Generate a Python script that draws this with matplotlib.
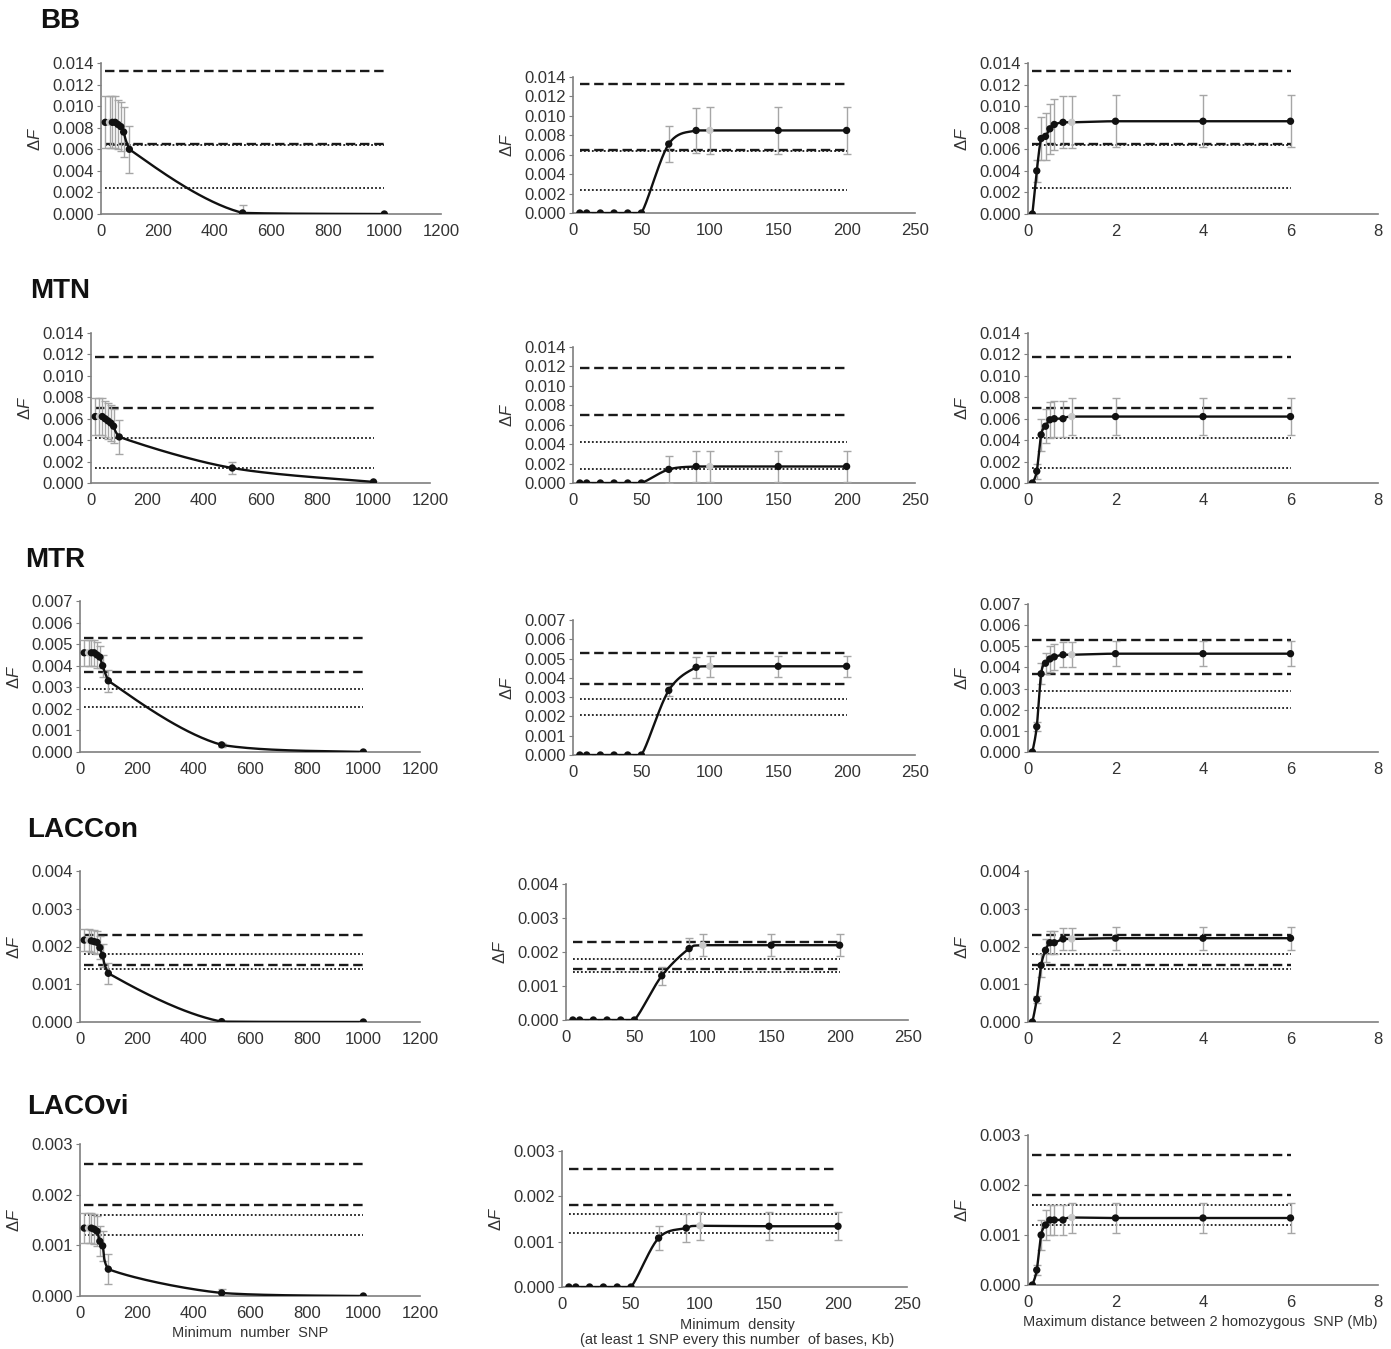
import numpy as np
import matplotlib
matplotlib.use('Agg')
import matplotlib.pyplot as plt

plt.rcParams['font.family'] = ['Liberation Sans', 'DejaVu Sans']
plt.rcParams['mathtext.fontset'] = 'custom'
plt.rcParams['mathtext.rm'] = 'Liberation Sans'
plt.rcParams['mathtext.it'] = 'Liberation Sans:italic'

# ---- data ----
groups = ['BB', 'MTN', 'MTR', 'LACCon', 'LACOvi']

x_snp = [15, 30, 40, 50, 60, 70, 80, 100, 500, 1000]
x_dens = [5, 10, 20, 30, 40, 50, 70, 90, 100, 150, 200]
x_dist = [0.1, 0.2, 0.3, 0.4, 0.5, 0.6, 0.8, 1, 2, 4, 6]
gray_snp, gray_dens, gray_dist = 1, 8, 7   # highlighted (default) setting

# minimum number SNP
bb_snp = [0.0085, 0.0085, 0.0085, 0.0085, 0.0083, 0.0081, 0.0076, 0.0060, 0.0001, 0.0]
bb_snp_err = [0.0024, 0.0024, 0.0024, 0.0024, 0.0023, 0.0023, 0.0023, 0.0022, 0.0007, 0.0]
mtn_snp = [0.0062, 0.0062, 0.0062, 0.0060, 0.0058, 0.0056, 0.0053, 0.0043, 0.0014, 0.0001]
mtn_snp_err = [0.0017, 0.0017, 0.0017, 0.0017, 0.0017, 0.0017, 0.0016, 0.0016, 0.0006, 0.0]
mtr_snp = [0.0046, 0.0046, 0.0046, 0.0046, 0.0045, 0.0044, 0.0040, 0.0033, 0.00033, 0.0]
mtr_snp_err = [0.0006, 0.0006, 0.0006, 0.0006, 0.0006, 0.0005, 0.0005, 0.0005, 0.0001, 0.0]
lcc_snp = [0.00217, 0.00217, 0.00215, 0.00213, 0.00211, 0.00197, 0.00176, 0.00129, 0.00001, 0.0]
lcc_snp_err = [0.0003, 0.0003, 0.0003, 0.0003, 0.0003, 0.0003, 0.0003, 0.00028, 0.00002, 0.0]
lco_snp = [0.00134, 0.00134, 0.00134, 0.00132, 0.00128, 0.00108, 0.00099, 0.00053, 0.00006, 0.0]
lco_snp_err = [0.0003, 0.0003, 0.0003, 0.0003, 0.0003, 0.0003, 0.0003, 0.0003, 0.00008, 0.0]

# minimum density
bb_dens = [0, 0, 0, 0, 0, 0, 0.0071, 0.0085, 0.0085, 0.0085, 0.0085]
bb_dens_err = [0, 0, 0, 0, 0, 0, 0.0019, 0.0023, 0.0024, 0.0024, 0.0024]
mtn_dens = [0, 0, 0, 0, 0, 0, 0.0014, 0.0017, 0.0017, 0.0017, 0.0017]
mtn_dens_err = [0, 0, 0, 0, 0, 0, 0.0014, 0.0016, 0.0016, 0.0016, 0.0016]
mtr_dens = [0, 0, 0, 0, 0, 0, 0.00335, 0.00455, 0.0046, 0.0046, 0.0046]
mtr_dens_err = [0, 0, 0, 0, 0, 0, 0.0003, 0.00055, 0.00055, 0.00055, 0.00055]
lcc_dens = [0, 0, 0, 0, 0, 0, 0.0013, 0.0021, 0.0022, 0.0022, 0.0022]
lcc_dens_err = [0, 0, 0, 0, 0, 0, 0.00027, 0.0003, 0.00032, 0.00032, 0.00032]
lco_dens = [0, 0, 0, 0, 0, 0, 0.00108, 0.0013, 0.00135, 0.00134, 0.00134]
lco_dens_err = [0, 0, 0, 0, 0, 0, 0.00027, 0.0003, 0.00031, 0.00031, 0.00031]

# maximum distance between homozygous SNP
bb_dist = [0, 0.0040, 0.0070, 0.0072, 0.0079, 0.0083, 0.0085, 0.0085, 0.0086, 0.0086, 0.0086]
bb_dist_err = [0, 0.001, 0.002, 0.0022, 0.0023, 0.0024, 0.0024, 0.0024, 0.0024, 0.0024, 0.0024]
mtn_dist = [0, 0.0011, 0.0045, 0.0053, 0.0059, 0.0060, 0.0060, 0.0062, 0.0062, 0.0062, 0.0062]
mtn_dist_err = [0, 0.0007, 0.0015, 0.0016, 0.0017, 0.0017, 0.0017, 0.0017, 0.0017, 0.0017, 0.0017]
mtr_dist = [0, 0.0012, 0.0037, 0.0042, 0.0044, 0.0045, 0.0046, 0.0046, 0.00465, 0.00465, 0.00465]
mtr_dist_err = [0, 0.0002, 0.0005, 0.0005, 0.0006, 0.0006, 0.0006, 0.0006, 0.0006, 0.0006, 0.0006]
lcc_dist = [0, 0.0006, 0.0015, 0.0019, 0.0021, 0.0021, 0.0022, 0.0022, 0.00222, 0.00222, 0.00222]
lcc_dist_err = [0, 0.0001, 0.0003, 0.0003, 0.0003, 0.0003, 0.0003, 0.0003, 0.0003, 0.0003, 0.0003]
lco_dist = [0, 0.0003, 0.0010, 0.0012, 0.0013, 0.0013, 0.0013, 0.00135, 0.00134, 0.00134, 0.00134]
lco_dist_err = [0, 0.0001, 0.0003, 0.0003, 0.0003, 0.0003, 0.0003, 0.0003, 0.0003, 0.0003, 0.0003]

# reference levels (dashed, dotted)
dashed_lv = [[0.0133, 0.0065], [0.0118, 0.0070], [0.0053, 0.0037], [0.0023, 0.0015], [0.0026, 0.0018]]
dotted_lv = [[0.0064, 0.0024], [0.0042, 0.0014], [0.0029, 0.0021], [0.0018, 0.0014], [0.0016, 0.0012]]

ymax = [0.014, 0.014, 0.007, 0.004, 0.003]
ystep = [0.002, 0.002, 0.001, 0.001, 0.001]

series = [
    [(bb_snp, bb_snp_err), (bb_dens, bb_dens_err), (bb_dist, bb_dist_err)],
    [(mtn_snp, mtn_snp_err), (mtn_dens, mtn_dens_err), (mtn_dist, mtn_dist_err)],
    [(mtr_snp, mtr_snp_err), (mtr_dens, mtr_dens_err), (mtr_dist, mtr_dist_err)],
    [(lcc_snp, lcc_snp_err), (lcc_dens, lcc_dens_err), (lcc_dist, lcc_dist_err)],
    [(lco_snp, lco_snp_err), (lco_dens, lco_dens_err), (lco_dist, lco_dist_err)],
]
xs = [x_snp, x_dens, x_dist]
grays = [gray_snp, gray_dens, gray_dist]
xlims = [(0, 1200, 200), (0, 250, 50), (0, 8, 2)]

# axes boxes in pixels: (left, right, top, bottom)
boxes = [
    [(101, 441, 63, 214), (573, 915, 77, 213), (1028, 1378, 63, 214)],
    [(91, 430, 333, 483), (573, 915, 347, 483), (1028, 1378, 333, 483)],
    [(80, 420, 601, 752), (573, 915, 620, 755), (1028, 1378, 604, 752)],
    [(80, 420, 871, 1022), (566, 908, 884, 1020), (1028, 1378, 871, 1022)],
    [(80, 420, 1144, 1296), (562, 907, 1151, 1287), (1028, 1378, 1135, 1285)],
]
title_pos = [(40, 28), (30, 298), (25, 567), (27, 837), (27, 1114)]

W, H = 1391, 1349


def smooth(x, y, n=40):
    # Excel-like smoothed line (Bezier through points, controls kept in segment box)
    p = np.column_stack([x, y]).astype(float)
    m = len(p)
    out = []
    for i in range(m - 1):
        p0, p1, p2, p3 = p[max(i - 1, 0)], p[i], p[i + 1], p[min(i + 2, m - 1)]
        lo = np.minimum(p1, p2)
        hi = np.maximum(p1, p2)
        c1 = np.clip(p1 + (p2 - p0) / 6, lo, hi)
        c2 = np.clip(p2 - (p3 - p1) / 6, lo, hi)
        t = np.linspace(0, 1, n)[:, None]
        out.append((1 - t) ** 3 * p1 + 3 * (1 - t) ** 2 * t * c1 + 3 * (1 - t) * t ** 2 * c2 + t ** 3 * p2)
    s = np.vstack(out)
    return s[:, 0], s[:, 1]


fig = plt.figure(figsize=(W / 100, H / 100), dpi=100)
axc = '#7f7f7f'
tc = '#333333'

for r in range(5):
    for c in range(3):
        l, rr, t, b = boxes[r][c]
        ax = fig.add_axes([l / W, 1 - b / H, (rr - l) / W, (b - t) / H])
        x = xs[c]
        y, e = series[r][c]
        for v in dashed_lv[r]:
            ax.plot([x[0], x[-1]], [v, v], color='#1a1a1a', lw=1.7, ls=(0, (4, 2)), zorder=2)
        for v in dotted_lv[r]:
            ax.plot([x[0], x[-1]], [v, v], color='#1a1a1a', lw=1.3, ls=(0, (1, 1.2)), zorder=2)
        ax.errorbar(x, y, yerr=e, fmt='none', ecolor='#a6a6a6', elinewidth=1.0,
                    capsize=3, capthick=1.0, zorder=3)
        sx, sy = smooth(x, y)
        ax.plot(sx, sy, color='#111111', lw=1.7, zorder=4)
        cols = ['#c8c8c8' if i == grays[c] else '#111111' for i in range(len(x))]
        ax.scatter(x, y, s=28, c=cols, zorder=5, linewidths=0)
        x0, x1, xst = xlims[c]
        ax.set_xlim(x0, x1)
        ax.set_xticks(np.arange(x0, x1 + xst / 2, xst))
        ax.set_ylim(0, ymax[r])
        ax.set_yticks(np.arange(0, ymax[r] + ystep[r] / 2, ystep[r]))
        ax.yaxis.set_major_formatter(matplotlib.ticker.FormatStrFormatter('%.3f'))
        ax.xaxis.set_major_formatter(matplotlib.ticker.FormatStrFormatter('%g'))
        for s in ['top', 'right']:
            ax.spines[s].set_visible(False)
        for s in ['left', 'bottom']:
            ax.spines[s].set_color(axc)
            ax.spines[s].set_linewidth(1.2)
        ax.tick_params(axis='y', length=3, color=axc, labelsize=12, labelcolor=tc, pad=2)
        ax.tick_params(axis='x', length=0, labelsize=12, labelcolor=tc, pad=7)
        ax.set_ylabel('Δ$\\mathit{F}$', fontsize=12, color=tc, labelpad=7)
        ax.patch.set_alpha(0)
    fig.text(title_pos[r][0] / W, 1 - title_pos[r][1] / H, groups[r],
             fontsize=20, fontweight='bold', color='#111111', ha='left', va='baseline')

fig.text(250 / W, 1 - 1333 / H, 'Minimum  number  SNP', fontsize=10.5, color=tc,
         ha='center', va='center')
fig.text(737 / W, 1 - 1325 / H, 'Minimum  density', fontsize=10.5, color=tc,
         ha='center', va='center')
fig.text(737 / W, 1 - 1340 / H, '(at least 1 SNP every this number  of bases, Kb)', fontsize=10.5,
         color=tc, ha='center', va='center')
fig.text(1200 / W, 1 - 1322 / H, 'Maximum distance between 2 homozygous  SNP (Mb)', fontsize=10.5,
         color=tc, ha='center', va='center')

fig.savefig('out.png', dpi=100, facecolor='white')
